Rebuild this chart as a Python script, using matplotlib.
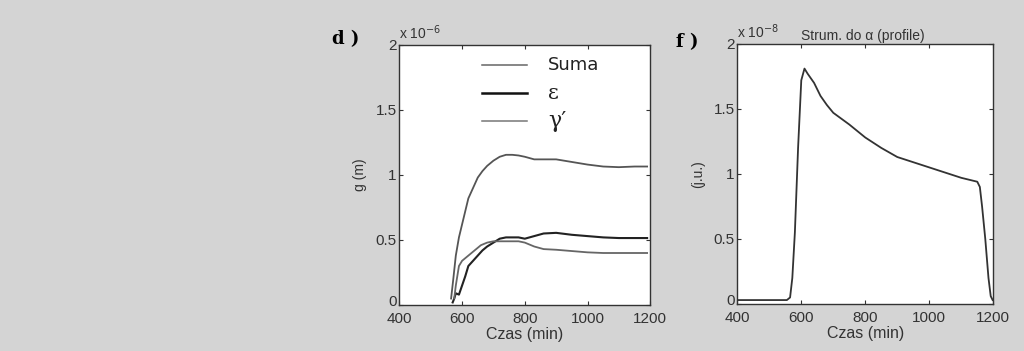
import matplotlib
matplotlib.use('Agg')
import matplotlib.pyplot as plt
import matplotlib.transforms as mtransforms

# panel d: g (m), x 1e-6
t_suma = [565, 572, 580, 590, 600, 610, 620, 635, 650, 665, 680, 700, 720, 740, 760, 780, 800, 830, 860, 900, 950, 1000, 1050, 1100, 1150, 1190]
suma = [0.05, 0.2, 0.38, 0.52, 0.62, 0.72, 0.82, 0.90, 0.98, 1.03, 1.07, 1.11, 1.14, 1.155, 1.155, 1.15, 1.14, 1.12, 1.12, 1.12, 1.10, 1.08, 1.065, 1.06, 1.065, 1.065]

t_eps = [570, 575, 580, 590, 600, 610, 620, 635, 650, 665, 680, 700, 720, 740, 780, 800, 830, 860, 900, 950, 1000, 1050, 1100, 1190]
eps = [0.02, 0.05, 0.09, 0.08, 0.15, 0.22, 0.30, 0.34, 0.38, 0.42, 0.45, 0.48, 0.51, 0.52, 0.52, 0.51, 0.53, 0.55, 0.555, 0.54, 0.53, 0.52, 0.515, 0.515]

t_gam = [575, 580, 590, 600, 620, 640, 660, 680, 700, 740, 780, 800, 830, 860, 900, 950, 1000, 1050, 1100, 1190]
gam = [0.05, 0.15, 0.30, 0.34, 0.38, 0.42, 0.46, 0.48, 0.49, 0.49, 0.49, 0.48, 0.45, 0.43, 0.425, 0.415, 0.405, 0.40, 0.40, 0.40]

# panel f: flux, x 1e-8
t_f = [400, 500, 555, 565, 572, 580, 590, 600, 610, 620, 640, 660, 680, 700, 750, 800, 850, 900, 950, 1000, 1050, 1100, 1150, 1158, 1165, 1175, 1185, 1192, 1198]
flux = [0.03, 0.03, 0.03, 0.05, 0.2, 0.55, 1.2, 1.72, 1.81, 1.77, 1.70, 1.60, 1.53, 1.47, 1.38, 1.28, 1.20, 1.13, 1.09, 1.05, 1.01, 0.97, 0.94, 0.90, 0.75, 0.50, 0.20, 0.06, 0.03]

xticks = [400, 600, 800, 1000, 1200]
yticks = [0, 0.5, 1, 1.5, 2]
ytick_labels = ['0', '0.5', '1', '1.5', '2']

# hand-drawn legend of panel d
leg_labels = ['Suma', 'ε', 'γ′']
leg_y = [1.846, 1.63, 1.415]

bg = '#d4d4d4'
plt.rcParams['font.family'] = ['Liberation Sans', 'DejaVu Sans']

fig = plt.figure(figsize=(10.24, 3.51), dpi=100)
fig.patch.set_facecolor(bg)

ax1 = fig.add_axes([0.390, 0.131, 0.245, 0.741])
ax2 = fig.add_axes([0.720, 0.134, 0.250, 0.741])


def style(ax):
    ax.set_xlim(400, 1200)
    ax.set_ylim(0, 2)
    ax.set_xticks(xticks)
    ax.set_yticks(yticks)
    ax.set_yticklabels(ytick_labels)
    ax.tick_params(direction='in', top=True, right=True, length=3, width=0.8,
                   labelsize=11, colors='#333333', pad=2)
    ax.tick_params(axis='x', pad=5)
    for s in ax.spines.values():
        s.set_color('#333333')
        s.set_linewidth(1.0)
    ax.set_xlabel('Czas (min)', fontsize=11.5, color='#333333', labelpad=1)
    # the "0" sits a little above the axis, as in MATLAB
    zero = ax.get_yticklabels()[0]
    zero.set_transform(zero.get_transform() +
                       mtransforms.ScaledTranslation(0, 3 / 72, fig.dpi_scale_trans))


# d)
ax1.plot(t_suma, suma, color='#555555', lw=1.3)
ax1.plot(t_eps, eps, color='#222222', lw=1.5)
ax1.plot(t_gam, gam, color='#666666', lw=1.3)
style(ax1)
ax1.set_ylabel('g (m)', fontsize=10, color='#333333', labelpad=6)
ax1.text(0.0, 1.01, 'x 10$^{-6}$', transform=ax1.transAxes, fontsize=10,
         color='#333333', va='bottom', ha='left')
fig.text(0.324, 0.875, 'd )', fontsize=13, fontweight='bold', family='DejaVu Serif')

leg_colors = ['#666666', '#111111', '#777777']
leg_widths = [1.1, 1.8, 1.1]
leg_sizes = [13, 15, 16]
leg_fams = ['DejaVu Sans', 'DejaVu Serif', 'DejaVu Serif']
for lab, y, c, w, fs, fam in zip(leg_labels, leg_y, leg_colors, leg_widths, leg_sizes, leg_fams):
    ax1.plot([665, 808], [y, y], color=c, lw=w)
    ax1.text(875, y, lab, fontsize=fs, color='#222222', va='center', family=fam)

# f)
ax2.plot(t_f, flux, color='#333333', lw=1.3)
style(ax2)
ax2.set_ylabel('(j.u.)', fontsize=10, color='#333333', labelpad=6)
ax2.text(0.0, 1.01, 'x 10$^{-8}$', transform=ax2.transAxes, fontsize=10,
         color='#333333', va='bottom', ha='left')
ax2.set_title('Strum. do α (profile)', fontsize=10, color='#333333', pad=3, x=0.49)
fig.text(0.660, 0.865, 'f )', fontsize=13, fontweight='bold', family='DejaVu Serif')

fig.savefig('out.png', dpi=100, facecolor=bg)
